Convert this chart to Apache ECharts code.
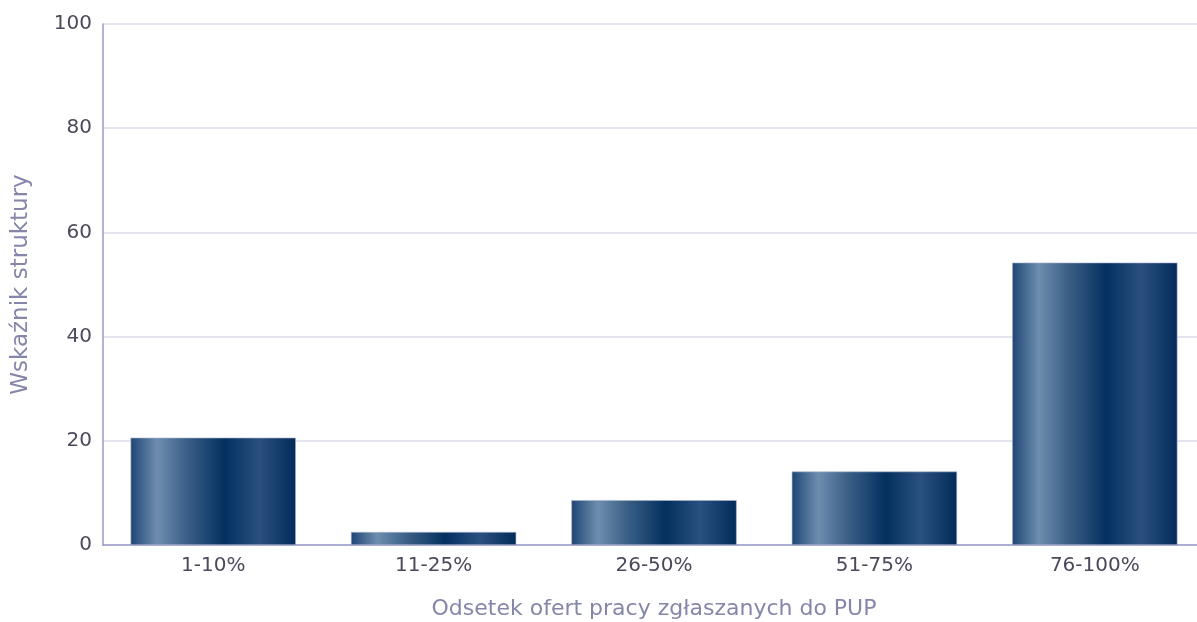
<!DOCTYPE html>
<html>
<head>
<meta charset="utf-8">
<script src="https://cdn.jsdelivr.net/npm/echarts@6/dist/echarts.min.js"></script>
<style>
  html, body { margin: 0; padding: 0; background: #fff; }
  #chart { width: 1197px; height: 622px; }
</style>
</head>
<body>
<div id="chart"></div>
<script>
const categories = ['1-10%', '11-25%', '26-50%', '51-75%', '76-100%'];
const values = [20.6, 2.5, 8.6, 14.1, 54.2];
const yTitle = 'Wskaźnik struktury';
const xTitle = 'Odsetek ofert pracy zgłaszanych do PUP';

const barGradient = new echarts.graphic.LinearGradient(0, 0, 1, 0, [
  { offset: 0, color: '#1f4576' },
  { offset: 0.16, color: '#6e8eae' },
  { offset: 0.33, color: '#3d6188' },
  { offset: 0.57, color: '#03305f' },
  { offset: 0.78, color: '#2a5080' },
  { offset: 1, color: '#022b5a' },
]);

const chart = echarts.init(document.getElementById('chart'));
chart.setOption({
  animation: false,
  // the plot runs a little past the right edge of the picture
  grid: { left: 103, right: -8, top: 24, bottom: 77, outerBoundsMode: 'none' },
  xAxis: {
    type: 'category',
    data: categories,
    name: xTitle,
    nameLocation: 'middle',
    nameGap: 53,
    nameTextStyle: { color: '#8686aa', fontSize: 22, fontFamily: 'DejaVu Sans' },
    axisLine: { lineStyle: { color: '#9a9ac4', width: 1.5 } },
    axisTick: { show: false },
    axisLabel: { color: '#4a4a5c', fontSize: 20, fontFamily: 'DejaVu Sans', margin: 11 },
  },
  yAxis: {
    type: 'value',
    min: 0,
    max: 100,
    interval: 20,
    name: yTitle,
    nameLocation: 'middle',
    nameGap: 70,
    nameTextStyle: { color: '#8686aa', fontSize: 23, fontFamily: 'DejaVu Sans' },
    axisLine: { show: true, lineStyle: { color: '#9a9ac4', width: 1.5 } },
    axisTick: { show: false },
    axisLabel: { color: '#4a4a5c', fontSize: 20, fontFamily: 'DejaVu Sans', margin: 11 },
    splitLine: { lineStyle: { color: '#dcdcec', width: 1.5 } },
  },
  series: [{
    type: 'bar',
    data: values,
    barWidth: '75%',
    itemStyle: { color: barGradient, borderColor: '#a9b5cc', borderWidth: 0.6 },
  }],
});
</script>
</body>
</html>
